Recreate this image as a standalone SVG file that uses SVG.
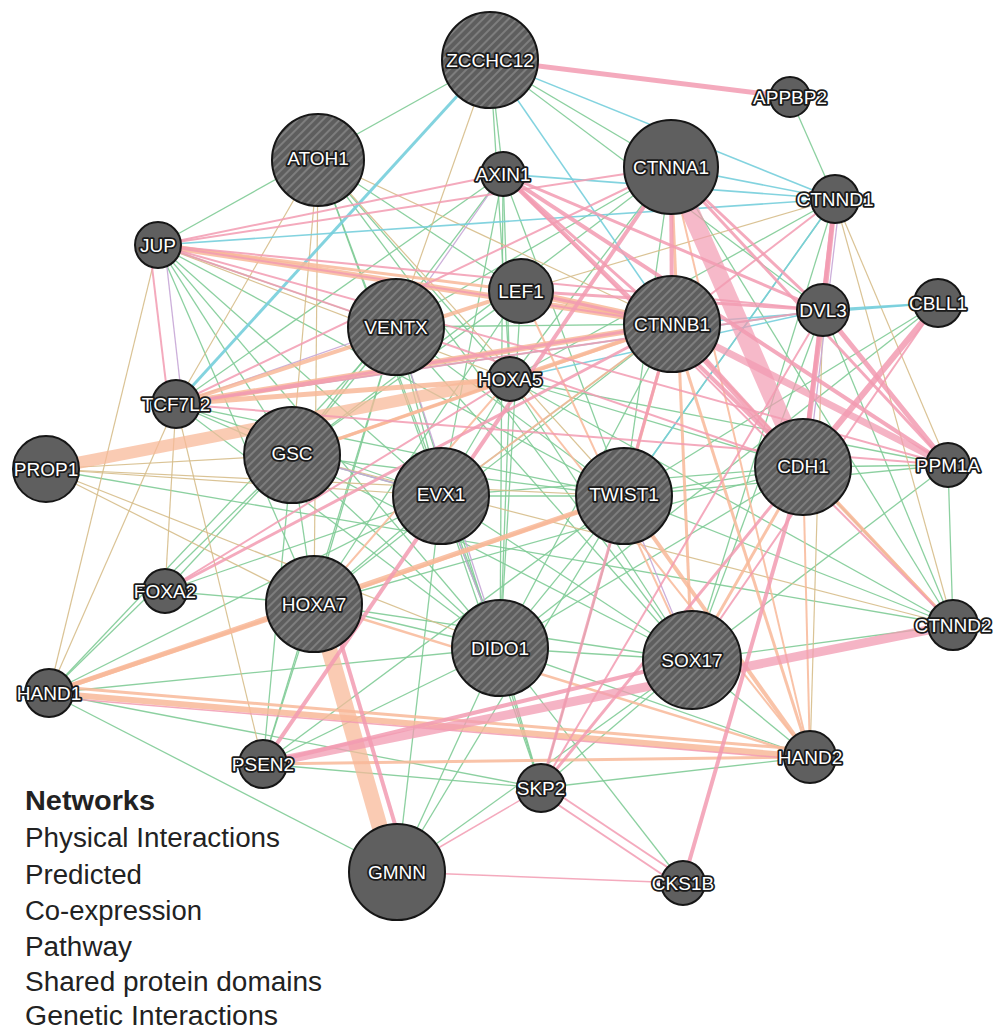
<svg xmlns="http://www.w3.org/2000/svg" width="993" height="1032" viewBox="0 0 993 1032">
<defs>
<pattern id="hatch" width="6" height="6" patternUnits="userSpaceOnUse" patternTransform="rotate(45)">
<rect width="6" height="6" fill="#5e5e5e"/>
<line x1="1" y1="0" x2="1" y2="6" stroke="#8f8f8f" stroke-width="1.3"/>
</pattern>
<style>
.edges line{fill:none;stroke-linecap:butt}
.ph{stroke:#f29bb2;stroke-width:2;opacity:.85}
.pr{stroke:#f8b999;stroke-width:2;opacity:.85}
.co{stroke:#c7a6d6;stroke-width:1.3;opacity:.9}
.pw{stroke:#76cedb;stroke-width:1.6;opacity:.9}
.sd{stroke:#d6bd8a;stroke-width:1.2;opacity:.9}
.gi{stroke:#7fcb96;stroke-width:1.3;opacity:.9}
.nd{fill:#5f5f5f;stroke:#161616;stroke-width:2}
.q{fill:url(#hatch);stroke:#161616;stroke-width:2}
.lb{font-family:"Liberation Sans",Arial,sans-serif;font-size:19px;fill:#ffffff;stroke:#1a1a1a;stroke-width:3.6px;paint-order:stroke;stroke-linejoin:round;text-anchor:middle}
.lg{font-family:"Liberation Sans",Arial,sans-serif;font-size:27px;fill:#222222}
</style>
</defs>
<rect width="993" height="1032" fill="#ffffff"/>
<g id="connectors" class="edges">
<!-- green: genetic interactions -->
<line class="gi" x1="490" y1="60" x2="158" y2="245"/>
<line class="gi" x1="490" y1="60" x2="503" y2="174"/>
<line class="gi" x1="490" y1="60" x2="510" y2="379"/>
<line class="gi" x1="490" y1="60" x2="823" y2="310"/>
<line class="gi" x1="490" y1="60" x2="671" y2="167"/>
<line class="gi" x1="790" y1="97" x2="835" y2="199"/>
<line class="gi" x1="318" y1="158" x2="441" y2="496"/>
<line class="gi" x1="318" y1="158" x2="500" y2="648"/>
<line class="gi" x1="318" y1="158" x2="692" y2="660"/>
<line class="gi" x1="318" y1="158" x2="510" y2="379"/>
<line class="gi" x1="318" y1="158" x2="521" y2="291"/>
<line class="gi" x1="503" y1="174" x2="176" y2="404"/>
<line class="gi" x1="503" y1="174" x2="292" y2="455"/>
<line class="gi" x1="503" y1="174" x2="510" y2="379"/>
<line class="gi" x1="503" y1="174" x2="624" y2="496"/>
<line class="gi" x1="503" y1="174" x2="441" y2="496"/>
<line class="gi" x1="503" y1="174" x2="500" y2="648"/>
<line class="gi" x1="671" y1="167" x2="510" y2="379"/>
<line class="gi" x1="671" y1="167" x2="396" y2="327"/>
<line class="gi" x1="671" y1="167" x2="953" y2="625"/>
<line class="gi" x1="671" y1="167" x2="292" y2="455"/>
<line class="gi" x1="671" y1="167" x2="624" y2="496"/>
<line class="gi" x1="835" y1="199" x2="510" y2="379"/>
<line class="gi" x1="835" y1="199" x2="624" y2="496"/>
<line class="gi" x1="835" y1="199" x2="692" y2="660"/>
<line class="gi" x1="158" y1="245" x2="396" y2="327"/>
<line class="gi" x1="158" y1="245" x2="441" y2="496"/>
<line class="gi" x1="158" y1="245" x2="500" y2="648"/>
<line class="gi" x1="158" y1="245" x2="624" y2="496"/>
<line class="gi" x1="158" y1="245" x2="292" y2="455"/>
<line class="gi" x1="158" y1="245" x2="314" y2="604"/>
<line class="gi" x1="521" y1="291" x2="292" y2="455"/>
<line class="gi" x1="521" y1="291" x2="314" y2="604"/>
<line class="gi" x1="521" y1="291" x2="500" y2="648"/>
<line class="gi" x1="396" y1="327" x2="292" y2="455"/>
<line class="gi" x1="396" y1="327" x2="441" y2="496"/>
<line class="gi" x1="396" y1="327" x2="314" y2="604"/>
<line class="gi" x1="396" y1="327" x2="624" y2="496"/>
<line class="gi" x1="396" y1="327" x2="692" y2="660"/>
<line class="gi" x1="396" y1="327" x2="672" y2="324"/>
<line class="gi" x1="396" y1="327" x2="49" y2="693"/>
<line class="gi" x1="396" y1="327" x2="263" y2="764"/>
<line class="gi" x1="396" y1="327" x2="541" y2="788"/>
<line class="gi" x1="672" y1="324" x2="441" y2="496"/>
<line class="gi" x1="672" y1="324" x2="500" y2="648"/>
<line class="gi" x1="672" y1="324" x2="314" y2="604"/>
<line class="gi" x1="510" y1="379" x2="441" y2="496"/>
<line class="gi" x1="510" y1="379" x2="500" y2="648"/>
<line class="gi" x1="510" y1="379" x2="692" y2="660"/>
<line class="gi" x1="510" y1="379" x2="803" y2="467"/>
<line class="gi" x1="510" y1="379" x2="953" y2="625"/>
<line class="gi" x1="510" y1="379" x2="948" y2="465"/>
<line class="gi" x1="176" y1="404" x2="292" y2="455"/>
<line class="gi" x1="176" y1="404" x2="441" y2="496"/>
<line class="gi" x1="176" y1="404" x2="624" y2="496"/>
<line class="gi" x1="176" y1="404" x2="500" y2="648"/>
<line class="gi" x1="292" y1="455" x2="441" y2="496"/>
<line class="gi" x1="292" y1="455" x2="314" y2="604"/>
<line class="gi" x1="292" y1="455" x2="165" y2="591"/>
<line class="gi" x1="292" y1="455" x2="263" y2="764"/>
<line class="gi" x1="292" y1="455" x2="624" y2="496"/>
<line class="gi" x1="292" y1="455" x2="500" y2="648"/>
<line class="gi" x1="292" y1="455" x2="692" y2="660"/>
<line class="gi" x1="292" y1="455" x2="49" y2="693"/>
<line class="gi" x1="46" y1="469" x2="953" y2="625"/>
<line class="gi" x1="441" y1="496" x2="314" y2="604"/>
<line class="gi" x1="441" y1="496" x2="500" y2="648"/>
<line class="gi" x1="441" y1="496" x2="624" y2="496"/>
<line class="gi" x1="441" y1="496" x2="692" y2="660"/>
<line class="gi" x1="441" y1="496" x2="49" y2="693"/>
<line class="gi" x1="441" y1="496" x2="165" y2="591"/>
<line class="gi" x1="441" y1="496" x2="541" y2="788"/>
<line class="gi" x1="441" y1="496" x2="803" y2="467"/>
<line class="gi" x1="624" y1="496" x2="500" y2="648"/>
<line class="gi" x1="624" y1="496" x2="803" y2="467"/>
<line class="gi" x1="624" y1="496" x2="953" y2="625"/>
<line class="gi" x1="624" y1="496" x2="948" y2="465"/>
<line class="gi" x1="624" y1="496" x2="397" y2="872"/>
<line class="gi" x1="624" y1="496" x2="541" y2="788"/>
<line class="gi" x1="624" y1="496" x2="263" y2="764"/>
<line class="gi" x1="803" y1="467" x2="948" y2="465"/>
<line class="gi" x1="803" y1="467" x2="500" y2="648"/>
<line class="gi" x1="803" y1="467" x2="314" y2="604"/>
<line class="gi" x1="803" y1="467" x2="953" y2="625"/>
<line class="gi" x1="948" y1="465" x2="953" y2="625"/>
<line class="gi" x1="948" y1="465" x2="692" y2="660"/>
<line class="gi" x1="165" y1="591" x2="314" y2="604"/>
<line class="gi" x1="314" y1="604" x2="500" y2="648"/>
<line class="gi" x1="314" y1="604" x2="692" y2="660"/>
<line class="gi" x1="314" y1="604" x2="263" y2="764"/>
<line class="gi" x1="500" y1="648" x2="692" y2="660"/>
<line class="gi" x1="500" y1="648" x2="541" y2="788"/>
<line class="gi" x1="500" y1="648" x2="263" y2="764"/>
<line class="gi" x1="500" y1="648" x2="49" y2="693"/>
<line class="gi" x1="500" y1="648" x2="397" y2="872"/>
<line class="gi" x1="500" y1="648" x2="810" y2="757"/>
<line class="gi" x1="500" y1="648" x2="683" y2="883"/>
<line class="gi" x1="692" y1="660" x2="541" y2="788"/>
<line class="gi" x1="692" y1="660" x2="397" y2="872"/>
<line class="gi" x1="692" y1="660" x2="953" y2="625"/>
<line class="gi" x1="692" y1="660" x2="810" y2="757"/>
<line class="gi" x1="49" y1="693" x2="397" y2="872"/>
<line class="gi" x1="49" y1="693" x2="541" y2="788"/>
<line class="gi" x1="263" y1="764" x2="541" y2="788"/>
<line class="gi" x1="810" y1="757" x2="541" y2="788"/>
<line class="gi" x1="397" y1="872" x2="441" y2="496"/>
<line class="gi" x1="823" y1="310" x2="953" y2="625"/>
<line class="gi" x1="823" y1="310" x2="692" y2="660"/>
<line class="gi" x1="938" y1="303" x2="624" y2="496"/>
<line class="gi" x1="938" y1="303" x2="500" y2="648"/>
<!-- tan: shared protein domains -->
<line class="sd" x1="490" y1="60" x2="396" y2="327"/>
<line class="sd" x1="318" y1="158" x2="672" y2="324"/>
<line class="sd" x1="318" y1="158" x2="176" y2="404"/>
<line class="sd" x1="318" y1="158" x2="292" y2="455"/>
<line class="sd" x1="318" y1="158" x2="314" y2="604"/>
<line class="sd" x1="318" y1="158" x2="624" y2="496"/>
<line class="sd" x1="176" y1="404" x2="263" y2="764"/>
<line class="sd" x1="176" y1="404" x2="49" y2="693"/>
<line class="sd" x1="176" y1="404" x2="165" y2="591"/>
<line class="sd" x1="158" y1="245" x2="49" y2="693"/>
<line class="sd" x1="158" y1="245" x2="510" y2="379"/>
<line class="sd" x1="46" y1="469" x2="624" y2="496"/>
<line class="sd" x1="46" y1="469" x2="314" y2="604"/>
<line class="sd" x1="46" y1="469" x2="292" y2="455"/>
<line class="sd" x1="46" y1="469" x2="441" y2="496"/>
<line class="sd" x1="46" y1="469" x2="500" y2="648"/>
<line class="sd" x1="835" y1="199" x2="948" y2="465"/>
<line class="sd" x1="835" y1="199" x2="953" y2="625"/>
<line class="sd" x1="835" y1="199" x2="521" y2="291"/>
<line class="sd" x1="292" y1="455" x2="953" y2="625"/>
<line class="sd" x1="823" y1="310" x2="810" y2="757"/>
<!-- purple: co-expression -->
<line class="co" x1="165" y1="250" x2="182" y2="400"/>
<line class="co" x1="396" y1="327" x2="176" y2="404"/>
<line class="co" x1="396" y1="327" x2="500" y2="648"/>
<line class="co" x1="441" y1="496" x2="500" y2="648"/>
<line class="co" x1="503" y1="174" x2="396" y2="327"/>
<line class="co" x1="840" y1="199" x2="808" y2="467"/>
<line class="co" x1="624" y1="496" x2="692" y2="660"/>
<line class="co" x1="292" y1="455" x2="441" y2="496"/>
<!-- cyan: pathway -->
<line class="pw" x1="490" y1="60" x2="176" y2="404" style="stroke-width:3"/>
<line class="pw" x1="490" y1="60" x2="672" y2="324"/>
<line class="pw" x1="671" y1="167" x2="835" y2="199"/>
<line class="pw" x1="823" y1="310" x2="938" y2="303" style="stroke-width:2"/>
<line class="pw" x1="503" y1="174" x2="835" y2="199"/>
<line class="pw" x1="158" y1="245" x2="835" y2="199"/>
<line class="pw" x1="672" y1="324" x2="938" y2="303"/>
<line class="pw" x1="176" y1="404" x2="823" y2="310"/>
<line class="pw" x1="490" y1="60" x2="835" y2="199"/>
<line class="pw" x1="510" y1="379" x2="823" y2="310"/>
<line class="pw" x1="835" y1="199" x2="624" y2="496"/>
<!-- peach: predicted -->
<line class="pr" x1="46" y1="469" x2="510" y2="379" style="stroke-width:12;opacity:.75"/>
<line class="pr" x1="318" y1="610" x2="392" y2="870" style="stroke-width:16;opacity:.75"/>
<line class="pr" x1="49" y1="693" x2="810" y2="757" style="stroke-width:6"/>
<line class="pr" x1="49" y1="686" x2="810" y2="750" style="stroke-width:3"/>
<line class="pr" x1="49" y1="693" x2="624" y2="496" style="stroke-width:5"/>
<line class="pr" x1="314" y1="604" x2="49" y2="693" style="stroke-width:4"/>
<line class="pr" x1="624" y1="496" x2="314" y2="604" style="stroke-width:3"/>
<line class="pr" x1="624" y1="496" x2="810" y2="757" style="stroke-width:4"/>
<line class="pr" x1="672" y1="324" x2="810" y2="757" style="stroke-width:3"/>
<line class="pr" x1="263" y1="764" x2="810" y2="757" style="stroke-width:3"/>
<line class="pr" x1="314" y1="604" x2="810" y2="757" style="stroke-width:2.5"/>
<line class="pr" x1="803" y1="467" x2="953" y2="625" style="stroke-width:3"/>
<line class="pr" x1="803" y1="467" x2="692" y2="660" style="stroke-width:3"/>
<line class="pr" x1="803" y1="467" x2="810" y2="757" style="stroke-width:2"/>
<line class="pr" x1="158" y1="245" x2="672" y2="324" style="stroke-width:6"/>
<line class="pr" x1="158" y1="245" x2="521" y2="291" style="stroke-width:3"/>
<line class="pr" x1="521" y1="291" x2="672" y2="324" style="stroke-width:7"/>
<line class="pr" x1="176" y1="404" x2="521" y2="291" style="stroke-width:4"/>
<line class="pr" x1="176" y1="404" x2="672" y2="324" style="stroke-width:6"/>
<line class="pr" x1="510" y1="379" x2="672" y2="324" style="stroke-width:4"/>
<line class="pr" x1="292" y1="455" x2="672" y2="324" style="stroke-width:3"/>
<line class="pr" x1="521" y1="291" x2="692" y2="660" style="stroke-width:2"/>
<line class="pr" x1="672" y1="324" x2="953" y2="625" style="stroke-width:2"/>
<line class="pr" x1="510" y1="379" x2="810" y2="757" style="stroke-width:2"/>
<line class="pr" x1="672" y1="324" x2="624" y2="496" style="stroke-width:3"/>
<line class="pr" x1="441" y1="496" x2="672" y2="324" style="stroke-width:2"/>
<line class="pr" x1="176" y1="404" x2="510" y2="379" style="stroke-width:5"/>
<line class="pr" x1="292" y1="455" x2="510" y2="379" style="stroke-width:3"/>
<line class="pr" x1="314" y1="604" x2="510" y2="379" style="stroke-width:2"/>
<line class="pr" x1="671" y1="167" x2="692" y2="660" style="stroke-width:3"/>
<line class="pr" x1="671" y1="167" x2="810" y2="757" style="stroke-width:2"/>
<!-- pink: physical interactions -->
<line class="ph" x1="490" y1="60" x2="790" y2="97" style="stroke-width:5"/>
<line class="ph" x1="671" y1="167" x2="803" y2="467" style="stroke-width:18;opacity:.7"/>
<line class="ph" x1="672" y1="324" x2="948" y2="465" style="stroke-width:7;opacity:.75"/>
<line class="ph" x1="823" y1="310" x2="948" y2="465" style="stroke-width:5"/>
<line class="ph" x1="672" y1="324" x2="803" y2="467" style="stroke-width:6"/>
<line class="ph" x1="503" y1="174" x2="948" y2="465" style="stroke-width:4"/>
<line class="ph" x1="503" y1="174" x2="803" y2="467" style="stroke-width:4"/>
<line class="ph" x1="503" y1="174" x2="823" y2="310" style="stroke-width:3"/>
<line class="ph" x1="503" y1="174" x2="672" y2="324" style="stroke-width:3"/>
<line class="ph" x1="835" y1="199" x2="823" y2="310" style="stroke-width:5"/>
<line class="ph" x1="835" y1="199" x2="803" y2="467" style="stroke-width:4"/>
<line class="ph" x1="671" y1="167" x2="823" y2="310" style="stroke-width:3"/>
<line class="ph" x1="671" y1="167" x2="672" y2="324" style="stroke-width:4"/>
<line class="ph" x1="938" y1="303" x2="803" y2="467" style="stroke-width:6"/>
<line class="ph" x1="823" y1="310" x2="803" y2="467" style="stroke-width:5"/>
<line class="ph" x1="671" y1="167" x2="948" y2="465" style="stroke-width:3"/>
<line class="ph" x1="158" y1="245" x2="503" y2="174"/>
<line class="ph" x1="158" y1="245" x2="671" y2="167"/>
<line class="ph" x1="158" y1="245" x2="672" y2="324"/>
<line class="ph" x1="158" y1="245" x2="823" y2="310"/>
<line class="ph" x1="150" y1="250" x2="168" y2="400"/>
<line class="ph" x1="158" y1="245" x2="803" y2="467"/>
<line class="ph" x1="176" y1="404" x2="672" y2="324" style="stroke-width:3"/>
<line class="ph" x1="176" y1="404" x2="671" y2="167"/>
<line class="ph" x1="176" y1="404" x2="823" y2="310"/>
<line class="ph" x1="671" y1="167" x2="263" y2="764" style="stroke-width:4"/>
<line class="ph" x1="953" y1="625" x2="263" y2="764" style="stroke-width:9;opacity:.75"/>
<line class="ph" x1="692" y1="660" x2="263" y2="764" style="stroke-width:4"/>
<line class="ph" x1="803" y1="467" x2="683" y2="883" style="stroke-width:4"/>
<line class="ph" x1="803" y1="467" x2="541" y2="788" style="stroke-width:3"/>
<line class="ph" x1="672" y1="324" x2="541" y2="788" style="stroke-width:3"/>
<line class="ph" x1="543" y1="784" x2="685" y2="879" style="stroke-width:2"/>
<line class="ph" x1="539" y1="792" x2="681" y2="887" style="stroke-width:2"/>
<line class="ph" x1="541" y1="788" x2="397" y2="872" style="stroke-width:1.5"/>
<line class="ph" x1="397" y1="872" x2="683" y2="883" style="stroke-width:1.5"/>
<line class="ph" x1="330" y1="606" x2="408" y2="868" style="stroke-width:4"/>
<line class="ph" x1="165" y1="591" x2="672" y2="324" style="stroke-width:3"/>
<line class="ph" x1="165" y1="591" x2="510" y2="379"/>
<line class="ph" x1="541" y1="788" x2="823" y2="310"/>
<line class="ph" x1="521" y1="291" x2="823" y2="310" style="stroke-width:3"/>
<line class="ph" x1="521" y1="291" x2="672" y2="324" style="stroke-width:3"/>
<line class="ph" x1="176" y1="404" x2="948" y2="465"/>
<line class="ph" x1="158" y1="245" x2="948" y2="465"/>
<line class="ph" x1="835" y1="199" x2="672" y2="324"/>
<line class="ph" x1="938" y1="303" x2="692" y2="660"/>
<line class="ph" x1="503" y1="174" x2="953" y2="625"/>
<line class="ph" x1="49" y1="697" x2="810" y2="760" style="stroke-width:1.5"/>
</g>
<g id="nodes">
<g id="node-ZCCHC12"><circle class="q" cx="490" cy="60" r="48"/><text class="lb" x="490" y="67">ZCCHC12</text></g>
<g id="node-APPBP2"><circle class="nd" cx="790" cy="97" r="20"/><text class="lb" x="790" y="104">APPBP2</text></g>
<g id="node-ATOH1"><circle class="q" cx="318" cy="160" r="46"/><text class="lb" x="318" y="165">ATOH1</text></g>
<g id="node-AXIN1"><circle class="nd" cx="503" cy="174" r="22"/><text class="lb" x="503" y="181">AXIN1</text></g>
<g id="node-CTNNA1"><circle class="nd" cx="671" cy="167" r="47"/><text class="lb" x="671" y="174">CTNNA1</text></g>
<g id="node-CTNND1"><circle class="nd" cx="835" cy="199" r="24"/><text class="lb" x="835" y="206">CTNND1</text></g>
<g id="node-JUP"><circle class="nd" cx="158" cy="245" r="23"/><text class="lb" x="158" y="252">JUP</text></g>
<g id="node-LEF1"><circle class="nd" cx="521" cy="291" r="32"/><text class="lb" x="521" y="298">LEF1</text></g>
<g id="node-VENTX"><circle class="q" cx="396" cy="327" r="48"/><text class="lb" x="396" y="334">VENTX</text></g>
<g id="node-CTNNB1"><circle class="q" cx="672" cy="324" r="48"/><text class="lb" x="672" y="331">CTNNB1</text></g>
<g id="node-DVL3"><circle class="nd" cx="823" cy="310" r="26"/><text class="lb" x="823" y="317">DVL3</text></g>
<g id="node-CBLL1"><circle class="nd" cx="938" cy="303" r="24"/><text class="lb" x="938" y="310">CBLL1</text></g>
<g id="node-HOXA5"><circle class="nd" cx="510" cy="379" r="22"/><text class="lb" x="510" y="386">HOXA5</text></g>
<g id="node-TCF7L2"><circle class="nd" cx="176" cy="404" r="24"/><text class="lb" x="176" y="411">TCF7L2</text></g>
<g id="node-GSC"><circle class="q" cx="292" cy="455" r="48"/><text class="lb" x="292" y="460">GSC</text></g>
<g id="node-PROP1"><circle class="nd" cx="46" cy="469" r="33"/><text class="lb" x="46" y="476">PROP1</text></g>
<g id="node-EVX1"><circle class="q" cx="441" cy="496" r="48"/><text class="lb" x="441" y="501">EVX1</text></g>
<g id="node-TWIST1"><circle class="q" cx="624" cy="496" r="48"/><text class="lb" x="624" y="501">TWIST1</text></g>
<g id="node-CDH1"><circle class="q" cx="803" cy="467" r="48"/><text class="lb" x="803" y="473">CDH1</text></g>
<g id="node-PPM1A"><circle class="nd" cx="948" cy="465" r="22"/><text class="lb" x="948" y="472">PPM1A</text></g>
<g id="node-FOXA2"><circle class="nd" cx="165" cy="591" r="22"/><text class="lb" x="165" y="598">FOXA2</text></g>
<g id="node-HOXA7"><circle class="q" cx="314" cy="604" r="48"/><text class="lb" x="314" y="611">HOXA7</text></g>
<g id="node-DIDO1"><circle class="q" cx="500" cy="648" r="48"/><text class="lb" x="500" y="655">DIDO1</text></g>
<g id="node-SOX17"><circle class="q" cx="692" cy="660" r="49"/><text class="lb" x="692" y="667">SOX17</text></g>
<g id="node-CTNND2"><circle class="nd" cx="953" cy="625" r="25"/><text class="lb" x="953" y="632">CTNND2</text></g>
<g id="node-HAND1"><circle class="nd" cx="49" cy="693" r="24"/><text class="lb" x="49" y="700">HAND1</text></g>
<g id="node-PSEN2"><circle class="nd" cx="263" cy="764" r="24"/><text class="lb" x="263" y="771">PSEN2</text></g>
<g id="node-HAND2"><circle class="nd" cx="810" cy="757" r="26"/><text class="lb" x="810" y="764">HAND2</text></g>
<g id="node-SKP2"><circle class="nd" cx="541" cy="788" r="24"/><text class="lb" x="541" y="795">SKP2</text></g>
<g id="node-GMNN"><circle class="nd" cx="397" cy="872" r="48"/><text class="lb" x="397" y="879">GMNN</text></g>
<g id="node-CKS1B"><circle class="nd" cx="683" cy="883" r="22"/><text class="lb" x="683" y="890">CKS1B</text></g>
</g>
<g id="legend">
<text class="lg" x="25" y="810" font-weight="bold" textLength="130" lengthAdjust="spacingAndGlyphs">Networks</text>
<text class="lg" x="25" y="847" textLength="255" lengthAdjust="spacingAndGlyphs">Physical Interactions</text>
<text class="lg" x="25" y="884" textLength="117" lengthAdjust="spacingAndGlyphs">Predicted</text>
<text class="lg" x="25" y="920" textLength="177" lengthAdjust="spacingAndGlyphs">Co-expression</text>
<text class="lg" x="25" y="956" textLength="107" lengthAdjust="spacingAndGlyphs">Pathway</text>
<text class="lg" x="25" y="991" textLength="297" lengthAdjust="spacingAndGlyphs">Shared protein domains</text>
<text class="lg" x="25" y="1025" textLength="253" lengthAdjust="spacingAndGlyphs">Genetic Interactions</text>
</g>
</svg>
